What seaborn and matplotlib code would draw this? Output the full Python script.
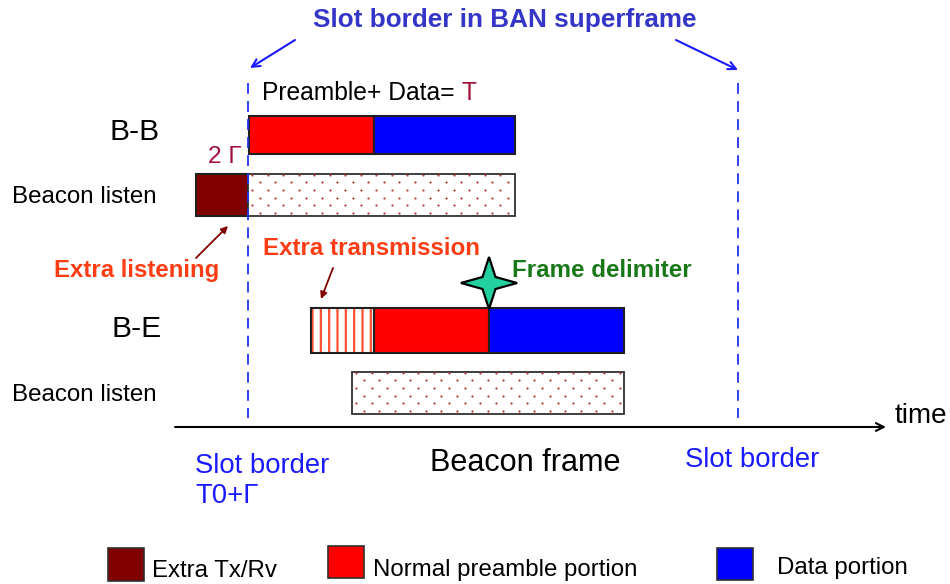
import matplotlib
matplotlib.use("Agg")
import matplotlib.pyplot as plt
import seaborn as sns
import numpy as np
from matplotlib.path import Path
from matplotlib.patches import PathPatch, Rectangle
from matplotlib import font_manager

# ---------------- data ----------------
row_names = ["B-B", "Beacon listen", "B-E", "Beacon listen"]
seg_row = [0, 0, 1, 1, 2, 2, 2, 3]
seg_start = [249, 374, 196, 248, 311, 374, 489, 352]
seg_end = [374, 515, 248, 515, 374, 489, 624, 624]
seg_kind = ["preamble", "data", "extra", "listen", "extra_tx", "preamble", "data", "listen"]
slot_borders = [248, 738]
delimiter_x = 489
legend_labels = ["Extra Tx/Rv", "Normal preamble portion", "Data portion"]
legend_kinds = ["extra", "preamble", "data"]

# ---------------- style ----------------
sns.set_theme(style="white")
names = {f.name for f in font_manager.fontManager.ttflist}
SANS = "Liberation Sans" if "Liberation Sans" in names else "DejaVu Sans"
plt.rcParams["font.family"] = [SANS, "DejaVu Sans"]
plt.rcParams["hatch.linewidth"] = 1.6

kind_color = {"preamble": "#ff0000", "data": "#0000ff", "extra": "#800000"}
row_y = [135, 195, 330, 393]
row_h = [38, 42, 45, 42]

fig = plt.figure(figsize=(9.5, 5.84), dpi=100)
ax = fig.add_axes([0, 0, 1, 1])
ax.set_xlim(0, 950)
ax.set_ylim(584, 0)
ax.axis("off")
renderer = fig.canvas.get_renderer()


def fit_text(x, y, s, width, **kw):
    t = ax.text(x, y, s, fontsize=10, va="baseline", **kw)
    w = t.get_window_extent(renderer).width
    t.set_fontsize(10 * width / w)
    return t


# ---------------- bars ----------------
for r, a, b, k in zip(seg_row, seg_start, seg_end, seg_kind):
    y, h = row_y[r], row_h[r]
    if k in kind_color:
        ax.barh(y, b - a, left=a, height=h, color=kind_color[k],
                edgecolor="#202020", linewidth=1.5, zorder=3)
    elif k == "listen":
        ax.barh(y, b - a, left=a, height=h, color="white",
                edgecolor="#303030", linewidth=1.3, zorder=3)
        # dotted texture
        top = y - h / 2
        pts = []
        for j, yy in enumerate(np.arange(top + 0.5, top + h - 1, 7.7)):
            off = 4 if j % 2 == 0 else 11.7
            for xx in np.arange(a + off, b - 1, 15.5):
                pts.append((xx, yy))
        pts = np.array(pts)
        ax.scatter(pts[:, 0], pts[:, 1], s=2.5, color="#b03a3a",
                   linewidths=0, zorder=4)
    elif k == "extra_tx":
        ax.barh(y, b - a, left=a, height=h, color="white", hatch="||",
                edgecolor="#ff5030", linewidth=0, zorder=3)
        ax.barh(y, b - a, left=a, height=h, fill=False,
                edgecolor="#202020", linewidth=1.5, zorder=4)

# ---------------- slot borders ----------------
for xb in slot_borders:
    ax.plot([xb, xb], [83, 418], color="#2233ee", lw=1.3,
            ls=(0, (6, 4)), zorder=5)

# time axis
ax.annotate("", xy=(886, 427), xytext=(175, 427),
            arrowprops=dict(arrowstyle="->", color="black", lw=1.5,
                            mutation_scale=14, shrinkA=0, shrinkB=0))
fit_text(895, 423, "time", 53, color="black")

# title + arrows
fit_text(505, 27, "Slot border in BAN superframe", 384,
         color="#3535c8", weight="bold", ha="center")
ax.annotate("", xy=(250, 68), xytext=(295, 40),
            arrowprops=dict(arrowstyle="->", color="#1a1aff", lw=1.5,
                            mutation_scale=14, shrinkA=0, shrinkB=0))
ax.annotate("", xy=(738, 70), xytext=(676, 40),
            arrowprops=dict(arrowstyle="->", color="#1a1aff", lw=1.5,
                            mutation_scale=14, shrinkA=0, shrinkB=0))

# Preamble + Data = T
t1 = fit_text(262, 100, "Preamble+ Data= ", 200, color="black")
bb = t1.get_window_extent(renderer)
x_end = ax.transData.inverted().transform((bb.x1, bb.y0))[0]
ax.text(x_end, 100, "T", fontsize=t1.get_fontsize(),
        color="#a0103a", va="baseline")

# row labels
fit_text(110, 140, row_names[0], 50, color="black")
fit_text(12, 203, row_names[1], 145, color="black")
fit_text(112, 337, row_names[2], 50, color="black")
fit_text(12, 401, row_names[3], 145, color="black")

fit_text(208, 163, "2 Γ", 34, color="#a0103a")

# extra listening / transmission
fit_text(54, 277, "Extra listening", 166, color="#ff3d14", weight="bold")
ax.annotate("", xy=(228, 226), xytext=(196, 258),
            arrowprops=dict(arrowstyle="-|>", color="#800000", lw=1.3,
                            mutation_scale=10, shrinkA=0, shrinkB=0))
fit_text(263, 255, "Extra transmission", 217, color="#ff3d14", weight="bold")
ax.annotate("", xy=(321, 299), xytext=(333, 268),
            arrowprops=dict(arrowstyle="-|>", color="#800000", lw=1.3,
                            mutation_scale=10, shrinkA=0, shrinkB=0))

# frame delimiter star
cx, cy = delimiter_x, 283
R, r_in = 26, 8.5
verts = []
for i in range(8):
    ang = np.pi / 2 - i * np.pi / 4
    rad = R if i % 2 == 0 else r_in
    verts.append((cx + rad * np.cos(ang) * 1.08, cy - rad * np.sin(ang)))
verts.append(verts[0])
ax.add_patch(PathPatch(Path(verts, closed=True), facecolor="#22d0a0",
                       edgecolor="black", lw=1.6, zorder=6))
fit_text(512, 277, "Frame delimiter", 180, color="#187818", weight="bold")

# bottom labels
sb = fit_text(195, 473, "Slot border", 135, color="#1a1aff")
ax.text(195, 503, "T0+Γ", fontsize=sb.get_fontsize(), color="#1a1aff",
        va="baseline")
fit_text(430, 471, "Beacon frame", 192, color="black")
fit_text(685, 467, "Slot border", 135, color="#1a1aff")

# legend
leg_boxes = [(108, 548, 36, 33), (328, 546, 36, 32), (717, 548, 36, 32)]
leg_text = [(152, 577), (373, 576), (777, 574)]
ref = ax.text(0, 0, legend_labels[1], fontsize=10)
lfs = 10 * 265 / ref.get_window_extent(renderer).width
ref.remove()
for (bx, by, bw, bh), (tx, ty), lab, k in zip(leg_boxes, leg_text,
                                              legend_labels, legend_kinds):
    ax.add_patch(Rectangle((bx, by), bw, bh, facecolor=kind_color[k],
                           edgecolor="#303030", lw=1.2, zorder=3))
    ax.text(tx, ty, lab, fontsize=lfs, color="black", va="baseline")

fig.savefig("out.png", dpi=100)
